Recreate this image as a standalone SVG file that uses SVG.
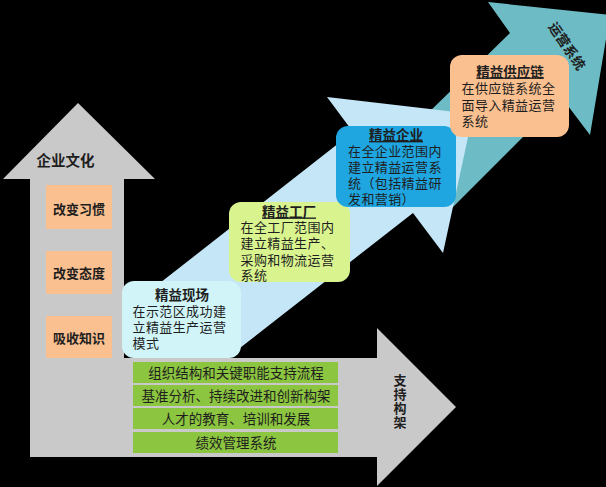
<svg xmlns="http://www.w3.org/2000/svg" width="606" height="487" viewBox="0 0 606 487">
<style>
text{font-family:"Noto Sans CJK SC","Noto Sans",sans-serif;fill:#1e1e1e}
.b{font-size:13px;letter-spacing:0.4px}
.t{font-size:13.5px;font-weight:bold;text-anchor:middle}
.u{text-decoration:underline}
.o{font-size:13px;font-weight:bold;text-anchor:middle}
.g{font-size:13.5px;text-anchor:middle}
.gray{fill:#c9c9c9}
.peach{fill:#fac090}
.green{fill:#8cc540}
</style>
<rect x="0" y="0" width="606" height="487" fill="#000"/>
<g id="connectors">
  <polygon id="arrow-ops" fill="#6dbcc5" points="380,160 510,33 488,2 610,15 590,135 562,98 430,230"/>
  <polygon id="arrow-lean" fill="#c5e6f7" points="140,298.6 353,132 327,97 473,114 443,253 413,213 220,363.5"/>
  <path id="arrow-support" class="gray" d="M30,457 L30,179 L3,179 L78,103 L155,179 L124,179 L124,358 L377,358 L377,328 L456,407 L377,486 L377,457 Z"/>
</g>
<g id="culture">
  <text x="65.5" y="166" style="font-size:14.5px;font-weight:bold;text-anchor:middle">企业文化</text>
</g>
<g id="habit"><rect class="peach" x="46" y="185" width="66" height="44"/><text class="o" x="79" y="213.5">改变习惯</text></g>
<g id="attitude"><rect class="peach" x="46" y="251" width="66" height="43"/><text class="o" x="79" y="278">改变态度</text></g>
<g id="knowledge"><rect class="peach" x="46" y="316" width="66" height="42"/><text class="o" x="79" y="343">吸收知识</text></g>
<g id="support-label">
  <text x="400" y="374" style="font-size:13px;font-weight:bold;writing-mode:vertical-rl;letter-spacing:1px">支持构架</text>
</g>
<g id="ops-label">
  <text x="567" y="51" style="font-size:13.5px;font-weight:bold;text-anchor:middle" transform="rotate(56 567 46)">运营系统</text>
</g>
<g id="row1"><rect class="green" x="133" y="362" width="205" height="21"/><text class="g" x="236" y="378">组织结构和关键职能支持流程</text></g>
<g id="row2"><rect class="green" x="133" y="385" width="205" height="21"/><text class="g" x="236" y="401">基准分析、持续改进和创新构架</text></g>
<g id="row3"><rect class="green" x="133" y="408" width="205" height="21"/><text class="g" x="236" y="424">人才的教育、培训和发展</text></g>
<g id="row4"><rect class="green" x="133" y="432" width="205" height="21"/><text class="g" x="236" y="447.5">绩效管理系统</text></g>
<g id="site">
  <rect x="122" y="281" width="119" height="77" rx="12" fill="#d0f4f7"/>
  <text class="t" x="182" y="300">精益现场</text>
  <text class="b"><tspan x="132.5" y="316">在示范区成功建</tspan><tspan x="132.5" y="332">立精益生产运营</tspan><tspan x="132.5" y="348">模式</tspan></text>
</g>
<g id="factory">
  <rect x="229" y="202" width="121" height="80" rx="12" fill="#d9f48f"/>
  <text class="t u" x="289" y="216.5">精益工厂</text>
  <text class="b"><tspan x="240.5" y="232">在全工厂范围内</tspan><tspan x="240.5" y="248">建立精益生产、</tspan><tspan x="240.5" y="264.5">采购和物流运营</tspan><tspan x="240.5" y="280">系统</tspan></text>
</g>
<g id="enterprise">
  <rect x="336" y="126" width="120" height="81" rx="12" fill="#1fa5e0"/>
  <text class="t u" x="396" y="140">精益企业</text>
  <text class="b"><tspan x="348" y="156">在全企业范围内</tspan><tspan x="348" y="172">建立精益运营系</tspan><tspan x="348" y="188">统（包括精益研</tspan><tspan x="348" y="203.5">发和营销）</tspan></text>
</g>
<g id="supply">
  <rect x="450" y="55" width="119" height="82" rx="12" fill="#fac090"/>
  <text class="t u" x="510" y="76.5">精益供应链</text>
  <text class="b"><tspan x="461.5" y="93">在供应链系统全</tspan><tspan x="461.5" y="109.5">面导入精益运营</tspan><tspan x="461.5" y="125.5">系统</tspan></text>
</g>
</svg>
